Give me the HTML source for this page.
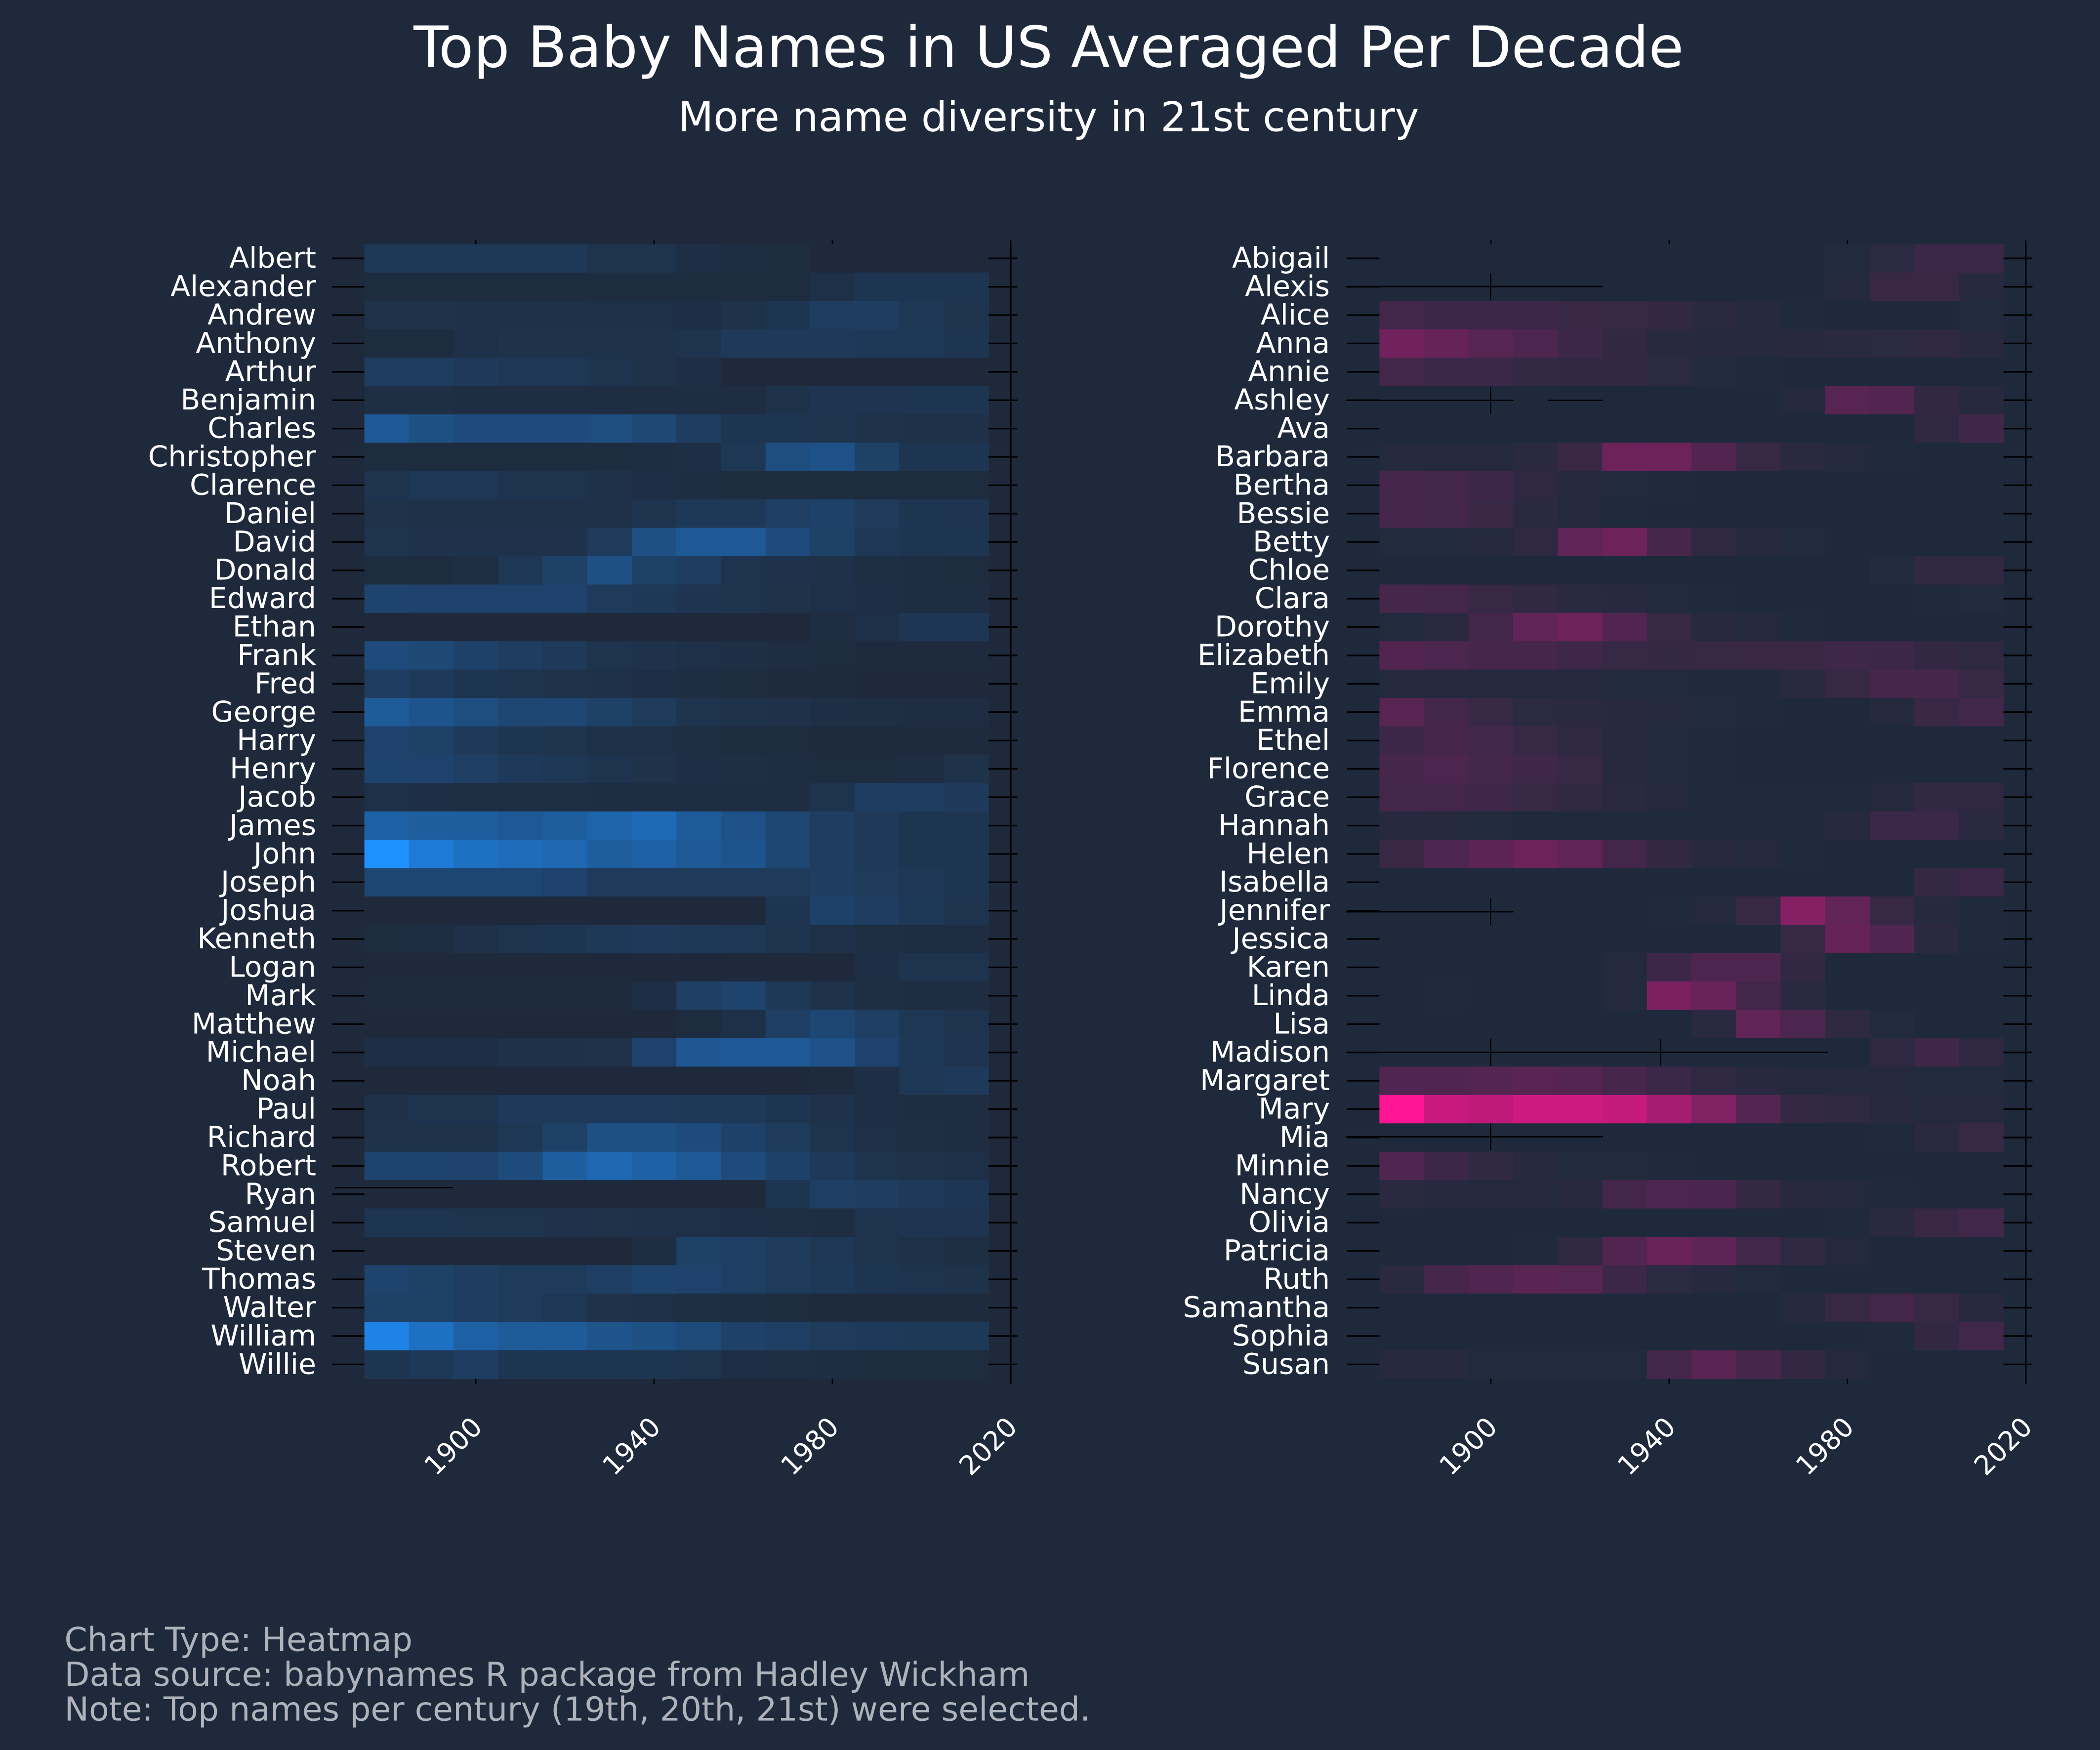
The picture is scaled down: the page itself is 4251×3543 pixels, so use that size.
<!DOCTYPE html>
<html><head><meta charset="utf-8"><style>
html,body{margin:0;padding:0;background:#1e293b;}
svg{display:block;}
text{font-family:"DejaVu Sans","Liberation Sans",sans-serif;}
</style></head><body>
<svg id="chart" width="4251" height="3543" viewBox="0 0 1568 1307" xmlns="http://www.w3.org/2000/svg">
<rect x="0" y="0" width="1568" height="1307" fill="#1e293b"/>
<text x="783" y="50" text-anchor="middle" font-size="42.5" fill="#ffffff">Top Baby Names in US Averaged Per Decade</text>
<text x="783" y="98" text-anchor="middle" font-size="30.5" fill="#ffffff">More name diversity in 21st century</text>
<g id="left"></g>
<g id="right"></g>
<text x="48" y="1233" font-size="24.5" fill="#aeb3bb">Chart Type: Heatmap</text>
<text x="48" y="1259" font-size="24.5" fill="#aeb3bb">Data source: babynames R package from Hadley Wickham</text>
<text x="48" y="1285" font-size="24.5" fill="#aeb3bb">Note: Top names per century (19th, 20th, 21st) were selected.</text>
</svg>
<script>
const decades=[1880,1890,1900,1910,1920,1930,1940,1950,1960,1970,1980,1990,2000,2010];
const xTicks=[1900,1940,1980,2020];
const boyNames=["Albert","Alexander","Andrew","Anthony","Arthur","Benjamin","Charles","Christopher","Clarence","Daniel","David","Donald","Edward","Ethan","Frank","Fred","George","Harry","Henry","Jacob","James","John","Joseph","Joshua","Kenneth","Logan","Mark","Matthew","Michael","Noah","Paul","Richard","Robert","Ryan","Samuel","Steven","Thomas","Walter","William","Willie"];
const boyValues=[
[1.5,1.5,1.5,1.5,1.5,1,1,0.5,0.3,0.2,0,0,0,0],
[0.2,0.2,0.2,0.2,0.2,0.2,0.2,0.2,0.2,0.2,0.6,1.2,1.2,1.2],
[0.8,0.8,0.7,0.7,0.7,0.6,0.6,0.5,0.8,1.2,2,2,1.4,1],
[0.2,0.2,0.6,0.8,0.8,0.8,0.8,1,1.6,1.6,1.6,1.5,1.5,1.2],
[2,2,1.6,1.4,1.4,1,0.8,0.5,0,0,0,0,0,0],
[0.4,0.4,0.3,0.3,0.3,0.3,0.3,0.3,0.3,0.8,1.1,1.1,1.2,1.2],
[5,4,3.5,3.5,3.5,3.8,3.2,2,1.2,1.2,1,0.8,0.7,0.7],
[0.2,0.2,0.2,0.2,0.2,0.2,0.3,0.5,1.4,3.8,4.2,2.4,1.2,1.2],
[1,1.4,1.4,1,1,0.7,0.5,0.3,0.2,0.2,0.2,0.2,0.2,0.2],
[0.8,0.7,0.7,0.7,0.7,0.7,1,1.5,1.5,2.2,2.5,1.8,1.2,1.1],
[1,0.9,0.9,0.9,0.9,1.8,4,5,5,3.5,2.4,1.4,1.2,1.2],
[0.2,0.2,0.4,1.4,2.4,4,2.4,2,1,0.9,0.7,0.4,0.3,0.2],
[2.8,2.6,2.6,2.6,2.6,1.8,1.5,1.1,1,0.8,0.6,0.5,0.3,0.3],
[0,0,0,0,0,0,0,0,0,0,0.3,0.6,1.3,1.3],
[3.5,3.2,2.5,2,1.6,1,0.9,0.6,0.5,0.3,0.2,0.1,0.1,0.1],
[2,1.7,1.2,1,0.8,0.7,0.5,0.3,0.2,0.1,0.1,0,0,0],
[5.2,4.5,3.8,3,3,2.4,1.8,1,0.8,0.7,0.5,0.4,0.3,0.3],
[2.6,2.4,1.6,1.2,1,0.6,0.6,0.4,0.2,0.2,0.1,0.1,0.1,0.1],
[2.8,2.6,2.2,1.6,1.4,1,0.8,0.5,0.4,0.3,0.2,0.2,0.3,0.8],
[0.6,0.5,0.4,0.4,0.4,0.3,0.3,0.3,0.3,0.3,1,2,2,1.6],
[5.8,5.5,5.5,5,5.5,6.2,6.8,5.2,4.2,3,2,1.6,1.2,1.2],
[10,8.5,7.5,7,6.5,5.5,5.8,5,4.5,3,2,1.6,1.2,1.2],
[3,3,3,3,2.6,1.8,1.8,1.8,1.8,1.8,2,1.8,1.4,1.2],
[0,0,0,0,0,0,0,0,0,1.2,2.5,2,1.5,1],
[0.2,0.3,0.7,1,1.2,1.5,1.6,1.5,1.4,1,0.6,0.4,0.3,0.3],
[0,0,0,0,0,0,0,0,0,0,0,0.5,1,1],
[0.1,0.1,0.1,0.1,0.1,0.1,0.5,2.2,2.8,1.5,0.8,0.4,0.3,0.3],
[0,0,0,0,0,0,0,0.2,0.6,2.2,3,2.2,1.4,1],
[0.5,0.5,0.5,0.7,0.7,0.8,2.6,4.8,5,5,4.2,2.6,1.5,1.1],
[0,0,0,0,0,0,0,0,0,0,0.1,0.5,1.4,1.6],
[0.7,1,1,1.6,1.6,1.6,1.6,1.5,1.5,1.2,0.9,0.5,0.3,0.3],
[0.8,0.8,0.8,1.4,2.4,4,4,3.5,2.5,1.8,1,0.6,0.4,0.3],
[2.8,2.8,2.6,3.5,5.5,6.5,5.8,5,3.5,2.5,1.6,1,0.8,0.6],
[0,0,0,0,0,0,0,0,0,1.2,2.2,2,1.6,1.3],
[1.2,1.2,1,1,0.9,0.8,0.7,0.6,0.5,0.4,0.3,1,1.1,1.1],
[0,0,0,0,0,0,0.3,2.4,2.2,1.8,1.4,1,0.6,0.4],
[2.8,2.4,2,1.8,1.8,2.2,2.8,2.6,2.2,1.8,1.5,1.2,1,0.8],
[2.4,2.4,2,1.8,1.4,0.8,0.6,0.4,0.3,0.2,0.1,0.1,0.1,0.1],
[9.5,7.5,5.8,5.2,5.2,4.4,4,3.4,2.5,2.2,1.8,1.6,1.5,1.5],
[1.2,1.5,2,1.2,1.2,1.2,1.2,1,0.5,0.4,0.3,0.2,0.2,0.2]];
const girlNames=["Abigail","Alexis","Alice","Anna","Annie","Ashley","Ava","Barbara","Bertha","Bessie","Betty","Chloe","Clara","Dorothy","Elizabeth","Emily","Emma","Ethel","Florence","Grace","Hannah","Helen","Isabella","Jennifer","Jessica","Karen","Linda","Lisa","Madison","Margaret","Mary","Mia","Minnie","Nancy","Olivia","Patricia","Ruth","Samantha","Sophia","Susan"];
const girlValues=[
[0,0,0,0,0,0,0,0,0,0,0.2,0.7,1.4,1.4],
[0,0,0,0,0,0,0,0,0,0,0.3,1.3,1.3,0.4],
[1.8,1.5,1.5,1.5,1.3,1.2,1,0.6,0.4,0.1,0,0,0,0.2],
[4,3.5,2.7,2.2,1.5,1,0.5,0.4,0.4,0.5,0.6,0.7,0.8,0.5],
[1.8,1.4,1.4,1.1,1,1,0.7,0.2,0.1,0,0,0,0,0],
[0,0,0,0,0,0,0,0,0,0.3,2.8,2.5,1,0.4],
[0,0,0,0,0,0,0,0,0,0,0,0,0.8,1.6],
[0.3,0.3,0.3,0.6,1.3,3.8,3.8,2.5,1.2,0.6,0.3,0.1,0,0],
[2,1.8,1.5,0.8,0.4,0.2,0.1,0,0,0,0,0,0,0],
[2,1.8,1.3,0.6,0.3,0.1,0,0,0,0,0,0,0,0],
[0.2,0.2,0.3,0.8,3.2,3.8,2,0.8,0.4,0.2,0,0,0,0],
[0,0,0,0,0,0,0,0,0,0,0,0.2,0.9,0.9],
[2,1.8,1.2,0.9,0.6,0.5,0.2,0.1,0,0,0,0,0.1,0.2],
[0.2,0.6,1.8,3.2,3.8,2.5,1.2,0.5,0.3,0.1,0,0,0,0],
[2.5,2.2,2,2,1.6,1.2,1.1,1.2,1.3,1.3,1.6,1.5,1,0.8],
[0.3,0.3,0.3,0.3,0.3,0.2,0.2,0.1,0.1,0.6,1.2,2,2,1.2],
[2.8,1.8,1.2,0.7,0.6,0.5,0.3,0.2,0.1,0,0,0.3,1.3,1.7],
[1.5,2,1.7,1.2,0.8,0.5,0.2,0.1,0,0,0,0,0,0],
[2,2.2,1.9,1.6,1.2,0.5,0.2,0.1,0,0,0,0,0,0],
[1.8,1.8,1.6,1.2,0.9,0.6,0.3,0.1,0.1,0.1,0.1,0.3,0.9,0.8],
[0.4,0.3,0.2,0.1,0.1,0.1,0.1,0.1,0.1,0.1,0.4,1.4,1.4,0.6],
[1.3,2.3,3,3.7,3.2,1.8,1,0.5,0.3,0.1,0,0,0,0],
[0,0,0,0,0,0,0,0,0,0,0,0,1.1,1.4],
[0,0,0,0,0,0,0.1,0.3,1.2,5,3.3,1.2,0.4,0.1],
[0,0,0,0,0,0,0,0,0,1.2,3.5,2.4,0.6,0.1],
[0,0,0,0,0,0.3,1.5,2.3,2.3,1,0,0,0,0],
[0,0.1,0,0,0,0.3,4.5,3.6,1.8,0.6,0,0,0,0],
[0,0,0,0,0,0,0,0.6,3.2,2.2,0.8,0.2,0,0],
[0,0,0,0,0,0,0,0,0,0,0,0.8,1.6,0.8],
[2.4,2.4,2.6,2.8,2.6,2,1.4,0.8,0.5,0.3,0.3,0.3,0.2,0.2],
[10,8.2,7.8,8.5,8.5,8,6.5,4.8,2.6,1.1,0.8,0.5,0.3,0.3],
[0,0,0,0,0,0,0,0,0,0,0,0.1,0.6,1.2],
[2.4,1.5,0.9,0.4,0.2,0.2,0.1,0,0,0,0,0,0,0],
[0.6,0.4,0.3,0.3,0.5,1.8,2.2,2.1,1.1,0.5,0.3,0.1,0,0],
[0,0,0,0,0,0,0,0,0,0,0.1,0.6,1.3,1.7],
[0,0,0,0.1,0.8,2.5,3.6,3.1,1.7,0.8,0.3,0,0,0],
[0.6,2,2.4,2.9,2.7,1.5,0.7,0.4,0.2,0,0,0,0,0],
[0,0,0,0,0,0,0,0,0,0.3,1.2,1.8,1.2,0.5],
[0,0,0,0,0,0,0,0,0,0,0,0.1,1,1.7],
[0.4,0.4,0.2,0.2,0.2,0.2,1.8,2.8,2,1,0.3,0,0,0]];

const NS="http://www.w3.org/2000/svg";
const BG=[30,42,60];
const TOP=182.4, ROWH=21.18;
function mk(tag,attrs,parent){const e=document.createElementNS(NS,tag);for(const k in attrs)e.setAttribute(k,attrs[k]);parent.appendChild(e);return e;}
function mix(c,t){return 'rgb('+c.map((v,i)=>Math.round(BG[i]+(v-BG[i])*t)).join(',')+')';}
function drawPanel(gid,names,values,x0,maxColor,labelX){
  const g=document.getElementById(gid);
  const xs=y=>x0+(y-1875)*(466/140);
  const ys=i=>TOP+i*ROWH;
  names.forEach((n,i)=>{
    values[i].forEach((v,j)=>{
      const t=Math.max(0,Math.min(1,v/10));
      const r=mk('rect',{x:xs(decades[j]-5),y:ys(i),width:xs(decades[j]+5)-xs(decades[j]-5)+0.4,height:ROWH+0.4,fill:mix(maxColor,t<1?t*0.92:1)},g);
      
      
    });
    const cy=ys(i)+ROWH/2;
    const t=mk('text',{x:labelX,y:cy+7,'text-anchor':'end','font-size':'21.5',fill:'#ffffff'},g);
    t.textContent=n;
    
    
    mk('line',{x1:x0-24,x2:x0,y1:cy,y2:cy,stroke:'#000',"stroke-width":1.2},g);
    mk('line',{x1:xs(2015),x2:xs(2020)+5,y1:cy,y2:cy,stroke:'#000',"stroke-width":1.2},g);
  });
  mk('line',{x1:xs(2020),x2:xs(2020),y1:TOP,y2:TOP+40*ROWH+4,stroke:'#000',"stroke-width":1.2},g);
  xTicks.forEach(yv=>{
    const x=xs(yv);
    mk('line',{x1:x,x2:x,y1:TOP,y2:TOP-3,stroke:'#000',"stroke-width":1},g);
    mk('line',{x1:x,x2:x,y1:TOP+40*ROWH,y2:TOP+40*ROWH+4,stroke:'#000',"stroke-width":1},g);
    const ax=x+6, ay=1067;
    const t=mk('text',{x:ax,y:ay,'text-anchor':'end','font-size':'20',fill:'#ffffff',transform:'rotate(-45 '+ax+' '+ay+')'},g);
    t.textContent=yv;
    
    
  });
}
drawPanel('left',boyNames,boyValues,272,[30,144,255],236);
drawPanel('right',girlNames,girlValues,1030,[255,20,147],993);
const art=document.getElementById('right');
const artLines=[[1005,1197,214],[1005,1130,299],[1156,1197,299],[1005,1130,681],[1005,1365,786],[1005,1197,849]];
artLines.forEach(a=>mk('line',{x1:a[0],x2:a[1],y1:a[2],y2:a[2],stroke:'#000','stroke-width':1},art));
[[1113,204,224],[1113,289,309],[1113,671,691],[1113,776,796],[1240,776,796],[1113,839,859]].forEach(a=>mk('line',{x1:a[0],x2:a[0],y1:a[1],y2:a[2],stroke:'#000','stroke-width':1},art));
mk('line',{x1:250,x2:338,y1:887,y2:887,stroke:'#000','stroke-width':1},document.getElementById('left'));
</script>
</body></html>
